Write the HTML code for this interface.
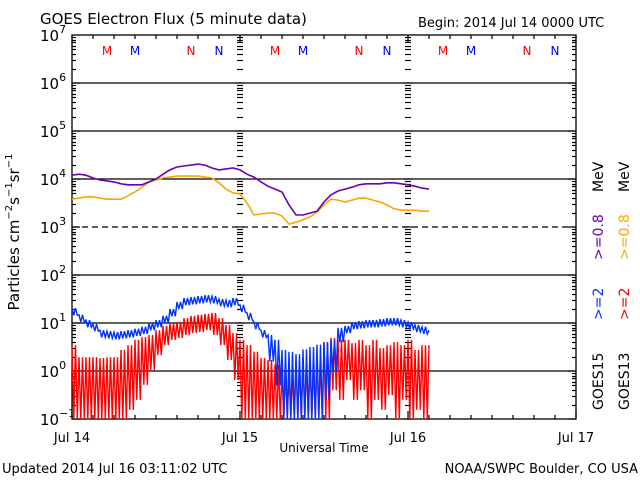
<!DOCTYPE html>
<html><head><meta charset="utf-8"><style>
body{margin:0;background:#fff;}
svg{display:block;font-family:"DejaVu Sans","Liberation Sans",sans-serif;}
</style></head><body>
<svg id="c" width="640" height="480" viewBox="0 0 640 480"></svg>
<script>
const hours=[];for(let i=0;i<52;i++)hours.push(i);
const purple=[4.08,4.10,4.08,4.02,3.98,3.96,3.94,3.90,3.88,3.88,3.88,3.94,4.00,4.10,4.19,4.25,4.27,4.29,4.31,4.29,4.23,4.19,4.21,4.23,4.19,4.10,4.04,3.94,3.85,3.79,3.73,3.46,3.25,3.25,3.29,3.33,3.52,3.67,3.75,3.79,3.83,3.88,3.90,3.90,3.90,3.92,3.92,3.90,3.88,3.85,3.81,3.79];
const orange=[3.58,3.60,3.63,3.63,3.60,3.58,3.58,3.58,3.65,3.73,3.83,3.94,3.98,4.02,4.04,4.06,4.06,4.06,4.06,4.04,4.02,3.92,3.79,3.71,3.69,3.50,3.25,3.27,3.29,3.29,3.23,3.06,3.10,3.15,3.21,3.31,3.46,3.58,3.56,3.52,3.56,3.60,3.60,3.56,3.52,3.46,3.38,3.35,3.35,3.35,3.33,3.33];
const blueHigh=[1.31,1.17,1.06,0.98,0.85,0.83,0.81,0.83,0.85,0.88,0.92,1.00,1.06,1.15,1.29,1.44,1.52,1.54,1.56,1.58,1.56,1.50,1.48,1.52,1.38,1.21,1.02,0.85,0.75,0.65,0.44,0.40,0.35,0.45,0.50,0.55,0.60,0.65,0.90,0.94,1.02,1.04,1.06,1.06,1.08,1.10,1.10,1.06,1.02,0.96,0.92,0.85];
const blueLow=[1.16,1.02,0.91,0.83,0.70,0.68,0.66,0.68,0.70,0.73,0.77,0.85,0.91,1.00,1.14,1.29,1.37,1.39,1.41,1.43,1.41,1.35,1.33,1.37,1.23,1.06,0.87,0.70,0.20,-0.30,-1,-1,-1,-1,-1,-1,-0.60,0.00,0.60,0.79,0.87,0.89,0.91,0.91,0.93,0.95,0.95,0.91,0.87,0.81,0.77,0.55];
const redHigh=[0.54,0.29,0.29,0.29,0.27,0.29,0.29,0.44,0.54,0.65,0.71,0.75,0.85,0.94,1.00,1.02,1.10,1.15,1.17,1.19,1.21,1.10,0.96,0.79,0.65,0.54,0.40,0.27,0.23,0.13,0.02,-0.02,0.19,0.23,0.23,0.27,0.60,0.69,0.65,0.65,0.58,0.65,0.54,0.65,0.48,0.54,0.60,0.54,0.65,0.44,0.54,0.54];
const redLow=[-1,-1,-1,-1,-1,-1,-1,-1,-0.81,-0.60,-0.29,0.02,0.33,0.54,0.65,0.69,0.75,0.79,0.81,0.85,0.75,0.54,0.23,-0.19,-1,-1,-1,-1,-1,-1,-1,-1,-1,-1,-1,-1,-1,-0.40,-0.60,-0.19,-0.60,-0.40,-1,-0.60,-0.81,-0.50,-1,-0.60,-1,-0.81,-1,-1];
const dayLabels=["Jul 14","Jul 15","Jul 16","Jul 17"];
const yExps=[-1,0,1,2,3,4,5,6,7];

const NS="http://www.w3.org/2000/svg";const svg=document.getElementById('c');
const X0=72,X1=576,Y0=419,Y1=35;
function xs(h){return X0+(X1-X0)*h/72;}
function ys(l){l=Math.max(-1,Math.min(7,l));return Y0-(Y0-Y1)*(l+1)/8;}
function el(t,a,p){const e=document.createElementNS(NS,t);for(const k in a)e.setAttribute(k,a[k]);(p||svg).appendChild(e);return e;}
function txt(s,x,y,a,p){const e=el('text',Object.assign({x:x,y:y},a),p);e.textContent=s;return e;}

yExps.forEach(function(k){if(k===-1||k===7)return;
 const g=el('line',{x1:X0,x2:X1,y1:ys(k),y2:ys(k),stroke:'#000','stroke-width':1.3,'stroke-dasharray':k===3?'6,4':'none'});
 
 
});
const box=el('rect',{x:X0,y:Y1,width:X1-X0,height:Y0-Y1,fill:'none',stroke:'#000','stroke-width':1.3});


const tg=el('g',{stroke:'#000','stroke-width':1.2});


for(let k=-1;k<7;k++){for(let m=2;m<=9;m++){const y=Math.round(ys(k+Math.log10(m)))+0.5;
 el('line',{x1:X0,x2:X0+4,y1:y,y2:y},tg);el('line',{x1:X1-4,x2:X1,y1:y,y2:y},tg);
 [1,2].forEach(function(d){const xd=xs(24*d);el('line',{x1:xd-3,x2:xd+3,y1:y,y2:y},tg);});}
 const y=ys(k);el('line',{x1:X0,x2:X0+8,y1:y,y2:y},tg);el('line',{x1:X1-8,x2:X1,y1:y,y2:y},tg);
 [1,2].forEach(function(d){const xd=xs(24*d);el('line',{x1:xd-4,x2:xd+4,y1:y,y2:y},tg);});}
for(let h=0;h<=72;h+=3){const x=xs(h);const L=(h%24===0)?8:4;
 el('line',{x1:x,x2:x,y1:Y0,y2:Y0-L},tg);el('line',{x1:x,x2:x,y1:Y1,y2:Y1+L},tg);}
yExps.forEach(function(k){const t=el('text',{x:40,y:ys(k)+6,'font-size':15});
 
 
 t.textContent='10';const s=el('tspan',{dy:-8,'font-size':11},t);s.textContent=String(k).replace('-','\u2212');});
dayLabels.forEach(function(s,i){const t=txt(s,xs(24*i),442,{'font-size':13,'text-anchor':'middle'});
 
 });
const mk=[["M",35,"#f00"],["M",63,"#00f"],["N",119,"#f00"],["N",147,"#00f"]];
[0,1,2].forEach(function(d){mk.forEach(function(m){const t=txt(m[0],X0+m[1]+168*d,55,{'font-size':12,fill:m[2],'text-anchor':'middle'});
 
 });});
function line(arr,color,name){const p=hours.map(function(h,i){return xs(h).toFixed(1)+','+ys(arr[i]).toFixed(1);}).join(' ');
 const e=el('polyline',{points:p,fill:'none',stroke:color,'stroke-width':1.6});
 
 }
function zig(hi,lo,color,name){const pts=[];hours.forEach(function(h,i){
  const n=i<hours.length-1?4:1;
  for(let q=0;q<n;q++){pts.push(xs(h+q*0.25).toFixed(1)+','+ys(q%2?lo[i]:hi[i]).toFixed(1));}
 });
 const e=el('polyline',{points:pts.join(' '),fill:'none',stroke:color,'stroke-width':1.4});
 
 }
zig(redHigh,redLow,'#f00','goes13-2mev-series');
zig(blueHigh,blueLow,'#0033ff','goes15-2mev-series');
line(orange,'#ffa500','goes13-08mev-series');
line(purple,'#6a00b8','goes15-08mev-series');
let t=txt('GOES Electron Flux (5 minute data)',40,24,{'font-size':15});
t=txt('Begin: 2014 Jul 14 0000 UTC',418,27,{'font-size':13});
t=txt('Universal Time',324,452,{'font-size':12,'text-anchor':'middle'});
t=txt('Updated 2014 Jul 16 03:11:02 UTC',2,473,{'font-size':13});
t=txt('NOAA/SWPC Boulder, CO USA',638,473,{'font-size':13,'text-anchor':'end'});
t=el('text',{x:0,y:0,'font-size':15,'text-anchor':'middle',transform:'translate(19,232) rotate(-90)'});


t.innerHTML='Particles cm<tspan dy="-7" font-size="10">\u22122</tspan><tspan dy="7">s</tspan><tspan dy="-7" font-size="10">\u22121</tspan><tspan dy="7">sr</tspan><tspan dy="-7" font-size="10">\u22121</tspan>';
function leg(x,y,s,color,name){const e=el('text',{x:0,y:0,'font-size':14,fill:color,transform:'translate('+x+','+y+') rotate(-90)'});
 
 
 e.textContent=s;}
leg(603,410,'GOES15','#000','legend-goes15-label');
leg(603,320,'>=2','#0033ff','legend-goes15-2mev');
leg(603,260,'>=0.8','#6a00b8','legend-goes15-08mev');
leg(603,192,'MeV','#000','legend-goes15-unit');
leg(629,410,'GOES13','#000','legend-goes13-label');
leg(629,320,'>=2','#f00','legend-goes13-2mev');
leg(629,260,'>=0.8','#ffa500','legend-goes13-08mev');
leg(629,192,'MeV','#000','legend-goes13-unit');
</script>
</body></html>
